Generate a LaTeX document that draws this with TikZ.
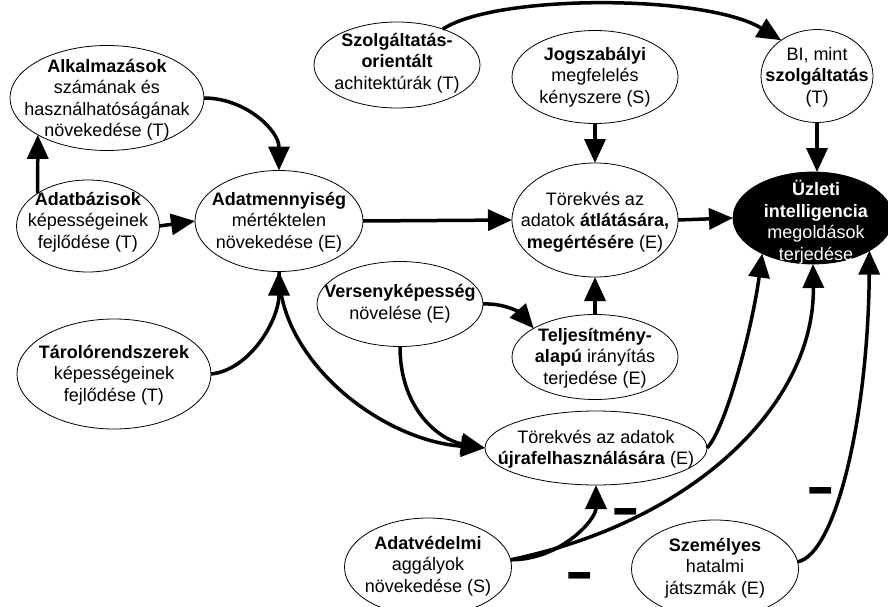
\documentclass[tikz,border=0pt]{standalone}
\usepackage{fontspec}
\setmainfont{Liberation Sans}
\usetikzlibrary{shapes.geometric,arrows.meta}
\tikzset{
  ell/.style={draw, ellipse, line width=0.8pt, inner sep=0pt, outer sep=0pt},
  txt/.style={align=center, inner sep=0pt, font=\fontsize{18}{21.5}\selectfont},
  arr/.style={line width=3.5pt, -{Triangle[length=24pt,width=21pt]}},
  minus/.style={inner sep=0pt, anchor=base, font=\fontsize{44}{44}\selectfont\bfseries},
}
\begin{document}
\begin{tikzpicture}[x=1pt,y=-1pt]
\useasboundingbox (0,0) rectangle (888,607);
% ellipses
\node[ell, minimum width=194pt, minimum height=105pt] (alk) at (107,98) {};
\node[ell, minimum width=143pt, minimum height=92pt] (adb) at (88,226) {};
\node[ell, minimum width=194pt, minimum height=110pt] (tar) at (114,374) {};
\node[ell, minimum width=168pt, minimum height=101pt] (adm) at (279,221) {};
\node[ell, minimum width=166pt, minimum height=86pt] (szo) at (397,65) {};
\node[ell, minimum width=166pt, minimum height=93pt] (jog) at (595,77) {};
\node[ell, minimum width=112pt, minimum height=93pt] (bi) at (817,76) {};
\node[ell, fill=black, minimum width=160pt, minimum height=92pt] (uzl) at (813,218) {};
\node[ell, minimum width=166pt, minimum height=114pt] (atl) at (595,220) {};
\node[ell, minimum width=166pt, minimum height=85pt] (ver) at (400,304) {};
\node[ell, minimum width=166pt, minimum height=85pt] (tel) at (595,357) {};
\node[ell, minimum width=222pt, minimum height=74pt] (ujr) at (596,448) {};
\node[ell, minimum width=167pt, minimum height=98pt] (adv) at (428,567) {};
\node[ell, minimum width=167pt, minimum height=98pt] (sze) at (715,569) {};
% texts
\node[txt] (alkt) at (107,100) {\textbf{Alkalmazások}\\számának és\\használhatóságának\\növekedése (T)};
\node[txt] (adbt) at (88,222) {\textbf{Adatbázisok}\\képességeinek\\fejlődése (T)};
\node[txt] (tart) at (114,375) {\textbf{Tárolórendszerek}\\képességeinek\\fejlődése (T)};
\node[txt] (admt) at (279,222) {\textbf{Adatmennyiség}\\mértéktelen\\növekedése (E)};
\node[txt] (szot) at (397,63) {\textbf{Szolgáltatás-}\\\textbf{orientált}\\achitektúrák (T)};
\node[txt] (jogt) at (595,77) {\textbf{Jogszabályi}\\megfelelés\\kényszere (S)};
\node[txt] (bit) at (817,77) {BI, mint\\\textbf{szolgáltatás}\\(T)};
\node[txt, text=white] (uzlt) at (816,222) {\textbf{Üzleti}\\\textbf{intelligencia}\\megoldások\\terjedése};
\node[txt] (atlt) at (595,222) {Törekvés az\\adatok \textbf{átlátására,}\\\textbf{megértésére} (E)};
\node[txt] (vert) at (400,304) {\textbf{Versenyképesség}\\növelése (E)};
\node[txt] (telt) at (595,358) {\textbf{Teljesítmény-}\\\textbf{alapú} irányítás\\terjedése (E)};
\node[txt] (ujrt) at (596,449) {Törekvés az adatok\\\textbf{újrafelhasználására} (E)};
\node[txt] (advt) at (428,566) {\textbf{Adatvédelmi}\\aggályok\\növekedése (S)};
\node[txt] (szet) at (715,568) {\textbf{Személyes}\\hatalmi\\játszmák (E)};
% minus signs
\node[minus] (m1) at (580,593) {\scalebox{1}[1.5]{–}};
\node[minus] (m2) at (626,529) {\scalebox{1}[1.5]{–}};
\node[minus] (m3) at (821,508) {\scalebox{1}[1.5]{–}};
% connectors
\draw[arr] (adb.147) -- (alk.208);
\draw[arr] (adb.east) -- (adm.west);
\draw[arr] (alk.east) .. controls (245,98) and (279,130) .. (adm.north);
\draw[arr] (tar.east) .. controls (250,370) and (279,320) .. (adm.south);
\draw[arr] (adm.south) .. controls (279,360) and (380,440) .. (ujr.west);
\draw[arr] (ver.south) .. controls (400,410) and (440,440) .. (ujr.west);
\draw[arr] (ver.east) .. controls (505,303) and (520,313) .. (tel.155);
\draw[arr] (tel.north) -- (atl.south);
\draw[arr] (jog.south) -- (atl.north);
\draw[arr] (adm.east) -- (atl.west);
\draw[arr] (atl.east) -- (uzl.west);
\draw[arr] (bi.south) -- (bi.south |- uzl.north);
\draw[arr] (szo.38) .. controls (495,-6) and (705,-6) .. (bi.135);
\draw[arr] (ujr.east) .. controls (725,430) and (752,330) .. (uzl.215);
\draw[arr] (adv.5) .. controls (700,520) and (815,400) .. (uzl.south);
\draw[arr] (adv.5) .. controls (560,560) and (596,520) .. (ujr.south);
\draw[arr] (sze.5) .. controls (835,555) and (868,420) .. (uzl.330);
\end{tikzpicture}
\end{document}
